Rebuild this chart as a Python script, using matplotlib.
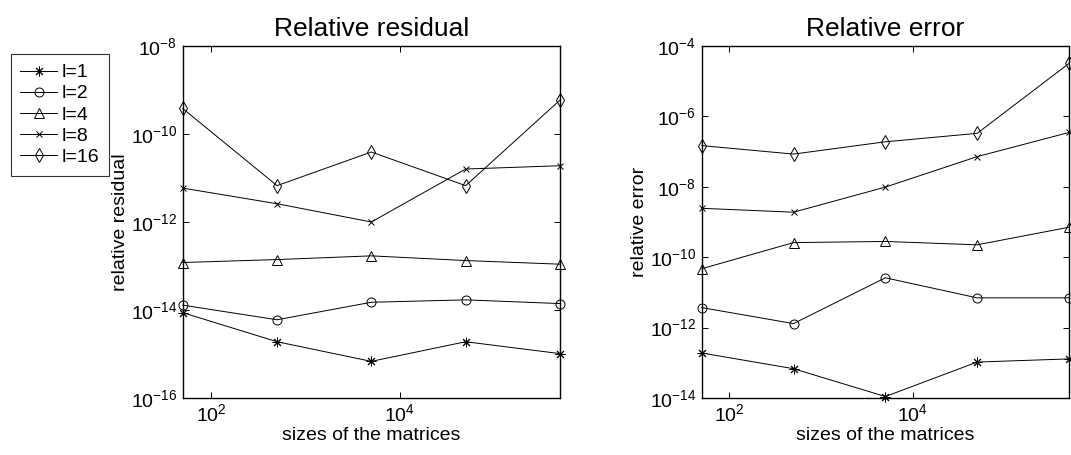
import matplotlib
matplotlib.use("Agg")
import matplotlib.pyplot as plt
from matplotlib.ticker import FixedLocator, NullLocator

plt.rcParams['font.family'] = ['Liberation Sans', 'DejaVu Sans']
plt.rcParams['mathtext.fontset'] = 'custom'
plt.rcParams['mathtext.rm'] = 'Liberation Sans'
plt.rcParams['mathtext.it'] = 'Liberation Sans:italic'
plt.rcParams['mathtext.bf'] = 'Liberation Sans:bold'

sizes = [50, 500, 5000, 50000, 500000]
labels = ['l=1', 'l=2', 'l=4', 'l=8', 'l=16']

residual_l1 = [8.7e-15, 1.9e-15, 6.8e-16, 1.9e-15, 1.02e-15]
residual_l2 = [1.29e-14, 6.0e-15, 1.5e-14, 1.7e-14, 1.4e-14]
residual_l4 = [1.2e-13, 1.4e-13, 1.7e-13, 1.33e-13, 1.1e-13]
residual_l8 = [5.9e-12, 2.6e-12, 1.0e-12, 1.6e-11, 1.9e-11]
residual_l16 = [3.8e-10, 6.7e-12, 3.9e-11, 6.7e-12, 5.9e-10]

error_l1 = [1.9e-13, 6.8e-14, 1.1e-14, 1.05e-13, 1.29e-13]
error_l2 = [3.7e-12, 1.3e-12, 2.6e-11, 7.0e-12, 7.0e-12]
error_l4 = [4.7e-11, 2.6e-10, 2.8e-10, 2.25e-10, 7.1e-10]
error_l8 = [2.45e-9, 1.9e-9, 9.8e-9, 7.2e-8, 3.5e-7]
error_l16 = [1.48e-7, 8.5e-8, 1.9e-7, 3.3e-7, 3.2e-5]

residuals = [residual_l1, residual_l2, residual_l4, residual_l8, residual_l16]
errors = [error_l1, error_l2, error_l4, error_l8, error_l16]
markers = [(8, 2, 0), 'o', '^', 'x', 'd']
msizes = [7, 6.5, 7, 5, 7.5]

fig = plt.figure(figsize=(10.71, 4.55), dpi=100)
W, H = 1071, 455
axL = fig.add_axes([182.7 / W, 57 / H, 377.3 / W, 352 / H])
axR = fig.add_axes([701.7 / W, 57 / H, 367.3 / W, 352 / H])

def setup(ax, data, ylim, yticks, title, ylabel):
    handles = []
    for vals, m, ms, lab in zip(data, markers, msizes, labels):
        h, = ax.plot(sizes, vals, color='black', linewidth=0.7, marker=m,
                     markersize=ms, markerfacecolor='none', markeredgecolor='black',
                     markeredgewidth=0.7, label=lab, clip_on=False)
        handles.append(h)
    ax.set_xscale('log')
    ax.set_yscale('log')
    ax.set_xlim(50, 500000)
    ax.set_ylim(*ylim)
    ax.xaxis.set_major_locator(FixedLocator([1e2, 1e4]))
    ax.yaxis.set_major_locator(FixedLocator(yticks))
    ax.xaxis.set_minor_locator(NullLocator())
    ax.yaxis.set_minor_locator(NullLocator())
    ax.tick_params(which='both', direction='in', top=True, right=True,
                   length=4, width=0.7, labelsize=14, pad=4)
    for s in ax.spines.values():
        s.set_linewidth(1.0)
    ax.set_title(title, fontsize=19, pad=7)
    ax.set_xlabel('sizes of the matrices', fontsize=14, labelpad=1)
    ax.set_ylabel(ylabel, fontsize=14, labelpad=1)
    return handles

hs = setup(axL, residuals, (1e-16, 1e-8), [1e-16, 1e-14, 1e-12, 1e-10, 1e-8],
           'Relative residual', 'relative residual')
setup(axR, errors, (1e-14, 1e-4), [1e-14, 1e-12, 1e-10, 1e-8, 1e-6, 1e-4],
      'Relative error', 'relative error')

leg = fig.legend(handles=hs, labels=labels, loc='upper left',
                 bbox_to_anchor=(10.7 / W, 1 - 54 / H), fontsize=14,
                 frameon=True, fancybox=False, edgecolor='black',
                 handlelength=1.9, handletextpad=0.2, labelspacing=0.18,
                 borderpad=0.5, borderaxespad=0.0)
leg.get_frame().set_linewidth(0.8)

fig.savefig('out.png', dpi=100)
